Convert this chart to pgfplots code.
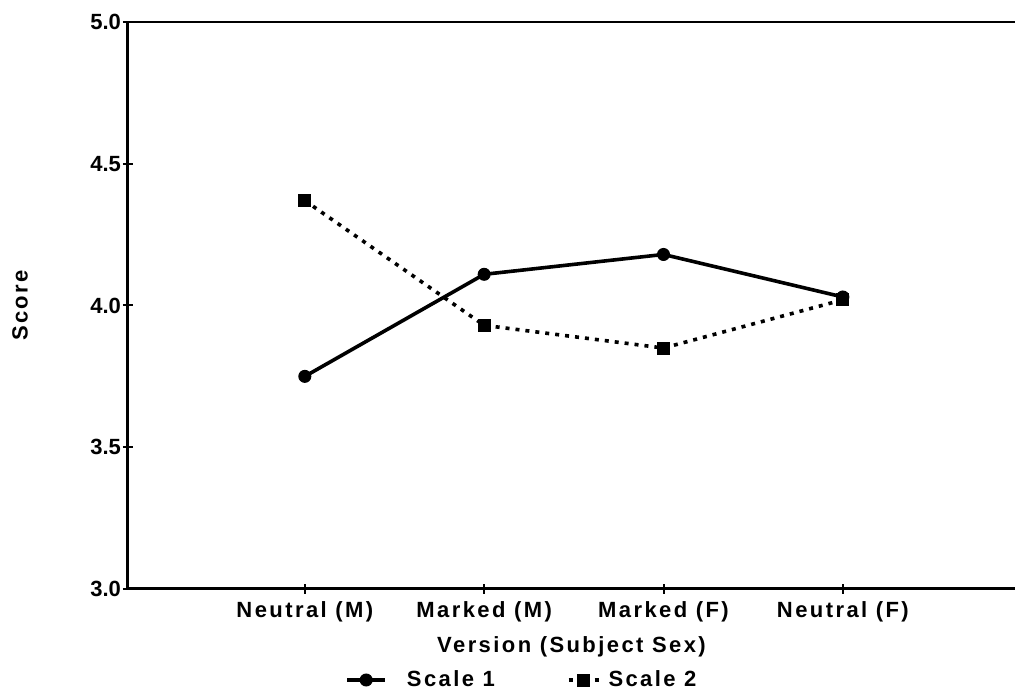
\documentclass[border=0pt]{standalone}
\usepackage{fontspec}
\setmainfont{Liberation Sans}[LetterSpace=11]
\newfontfamily\tickfont{Liberation Sans}
\usepackage{pgfplots}
\pgfplotsset{compat=1.18}
\newcommand{\fs}{\fontsize{11}{13}\selectfont\bfseries}
\pgfplotsset{
  legA/.style={legend image code/.code={\draw[mark repeat=2,mark phase=2,##1] plot coordinates {(0pt,0pt) (9.5pt,0pt) (19pt,0pt)};}},
  legB/.style={legend image code/.code={\draw[mark repeat=2,mark phase=2,##1,dash pattern=on 2pt off 11pt] plot coordinates {(0pt,0pt) (7.5pt,0pt) (15pt,0pt)};}},
}
\begin{document}
\begin{tikzpicture}
\useasboundingbox (-64pt,-52.5pt) rectangle (443.5pt,294.5pt);
\begin{axis}[
  at={(0,0)}, anchor=south west, scale only axis,
  width=443.5pt, height=283.5pt,
  xmin=0.014, xmax=4.96, ymin=3, ymax=5,
  axis lines*=left,
  axis line style={line width=1.5pt},
  tick align=center, major tick length=5pt,
  tick style={line width=1pt, black},
  xtick={1,2,3,4},
  xticklabels={Neutral (M), Marked (M), Marked (F), Neutral (F)},
  ytick={3,3.5,4,4.5,5},
  /pgf/number format/assume math mode=true,
  yticklabel={\pgfmathprintnumber[fixed,fixed zerofill,precision=1]{\tick}},
  xticklabel style={font=\fs, yshift=0pt},
  yticklabel style={font=\tickfont\fs, xshift=2.5pt},
  xlabel={Version (Subject Sex)},
  ylabel={Score},
  xlabel style={font=\fs, at={(axis description cs:0.5,-0.1023)}, anchor=center},
  ylabel style={font=\fs, at={(axis description cs:-0.1218,0.5)}, anchor=center, rotate=0},
  legend columns=2,
  legend cell align=left,
  legend style={draw=none, fill=none, font=\fs, at={(axis description cs:0.2446,-0.1605)}, anchor=west, inner sep=0pt,
    /tikz/column 1/.style={column sep=8pt},
    /tikz/column 2/.style={column sep=34pt},
    /tikz/column 3/.style={column sep=2pt}},
]
\addplot[black, line width=1.8pt, mark=*, mark size=3pt, mark options={solid, line width=0.5pt}, legA]
  coordinates {(1,3.75) (2,4.11) (3,4.18) (4,4.03)};
\addlegendentry{Scale 1}
\addplot[black, line width=1.8pt, dash pattern=on 2pt off 3pt, mark=square*, mark size=3pt, mark options={solid, line width=0.5pt}, legB]
  coordinates {(1,4.37) (2,3.93) (3,3.85) (4,4.02)};
\addlegendentry{Scale 2}
\draw[line width=1.5pt] (rel axis cs:0,1) -- (rel axis cs:1,1);
\end{axis}
\end{tikzpicture}
\end{document}
